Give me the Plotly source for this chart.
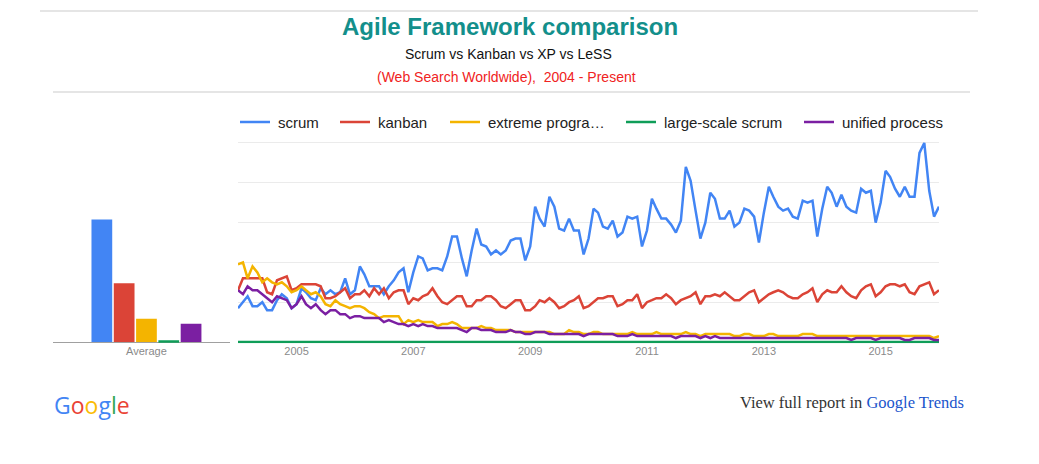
import plotly.graph_objects as go
import pandas as pd

# page is rendered with an 8px body margin, so the figure is slightly smaller
W, H = 1031, 456
OFF = 8

# ---------------- data (monthly, Jan 2004 - Jan 2016) ----------------
months = pd.date_range("2004-01-01", periods=145, freq="MS")

scrum = [
    17, 20, 23, 18, 18, 20, 16, 16, 21, 24, 22, 17,
    19, 27, 25, 22, 21, 27, 24, 26, 24, 25, 32, 24,
    26, 38, 34, 28, 28, 28, 24, 28, 31, 35, 37, 25,
    35, 43, 42, 36, 37, 37, 36, 43, 53, 53, 42, 33,
    46, 57, 49, 48, 44, 46, 44, 46, 51, 52, 52, 41,
    48, 68, 62, 58, 73, 68, 57, 56, 62, 56, 56, 44,
    52, 67, 65, 58, 57, 61, 53, 55, 63, 62, 63, 48,
    56, 72, 67, 62, 62, 59, 55, 61, 88, 81, 66, 52,
    60, 75, 72, 62, 62, 66, 58, 60, 67, 66, 63, 50,
    65, 78, 73, 68, 66, 67, 63, 62, 71, 70, 71, 53,
    67, 78, 75, 68, 74, 68, 66, 65, 77, 75, 76, 60,
    70, 86, 83, 77, 73, 78, 73, 73, 95, 100, 76, 63,
    68,
]

kanban = [
    26, 32, 32, 32, 32, 32, 25, 24, 31, 32, 33, 26,
    27, 29, 29, 29, 29, 28, 22, 22, 23, 25, 27, 22,
    24, 24, 26, 23, 27, 24, 27, 22, 25, 26, 26, 19,
    22, 21, 23, 24, 27, 23, 20, 19, 21, 23, 23, 18,
    18, 21, 21, 23, 23, 21, 18, 17, 19, 21, 21, 16,
    16, 18, 21, 20, 22, 20, 17, 18, 20, 21, 23, 17,
    18, 20, 22, 22, 23, 23, 18, 19, 21, 21, 24, 17,
    20, 21, 22, 22, 24, 22, 19, 21, 22, 23, 25, 19,
    23, 23, 24, 23, 25, 23, 21, 21, 23, 25, 26, 20,
    22, 24, 25, 26, 25, 23, 22, 22, 24, 25, 27, 20,
    24, 26, 25, 25, 28, 25, 23, 22, 26, 28, 29, 23,
    25, 28, 29, 29, 28, 29, 25, 24, 28, 29, 30, 24,
    26,
]

extreme_programming = [
    39, 40, 32, 38, 35, 30, 32, 30, 29, 30, 28, 25,
    26, 28, 26, 24, 25, 23, 19, 18, 21, 19, 18, 17,
    18, 18, 17, 15, 14, 12, 13, 13, 13, 13, 9, 11,
    10, 11, 10, 10, 10, 8, 9, 9, 10, 9, 7, 7,
    7, 7, 8, 7, 7, 6, 6, 6, 6, 5, 5, 5,
    5, 5, 5, 5, 5, 4, 4, 4, 6, 5, 5, 4,
    4, 5, 5, 4, 4, 4, 4, 4, 4, 5, 4, 4,
    4, 4, 5, 4, 4, 4, 4, 4, 5, 4, 4, 3,
    4, 4, 4, 4, 4, 4, 3, 3, 4, 4, 3, 3,
    3, 4, 4, 3, 3, 3, 3, 3, 4, 4, 4, 3,
    3, 3, 3, 3, 3, 3, 3, 3, 3, 3, 3, 3,
    3, 3, 3, 3, 3, 3, 3, 3, 3, 3, 3, 2,
    3,
]

large_scale_scrum = [
    0, 0, 0, 0, 0, 0, 0, 0, 0, 0, 0, 0,
    0, 0, 0, 0, 0, 0, 0, 0, 0, 0, 0, 0,
    0, 0, 0, 0, 0, 0, 0, 0, 0, 0, 0, 0,
    0, 0, 0, 0, 0, 0, 0, 0, 0, 0, 0, 0,
    0, 0, 0, 0, 0, 0, 0, 0, 0, 0, 0, 0,
    0, 0, 0, 0, 0, 0, 0, 0, 0, 0, 0, 0,
    0, 0, 0, 0, 0, 0, 0, 0, 0, 0, 0, 0,
    0, 0, 0, 0, 0, 0, 0, 0, 0, 0, 0, 0,
    0, 0, 0, 0, 0, 0, 0, 0, 0, 0, 0, 0,
    0, 0, 0, 0, 0, 0, 0, 0, 0, 0, 0, 0,
    0, 0, 0, 0, 0, 0, 0, 0, 0, 0, 0, 0,
    0, 0, 0, 0, 0, 0, 0, 0, 0, 0, 0, 0,
    0,
]

unified_process = [
    26, 24, 28, 26, 26, 24, 22, 20, 23, 22, 21, 17,
    19, 23, 19, 17, 19, 16, 14, 16, 16, 14, 14, 12,
    13, 13, 12, 12, 12, 12, 10, 11, 10, 9, 9, 8,
    9, 8, 9, 8, 8, 7, 7, 7, 7, 7, 6, 5,
    7, 7, 6, 6, 6, 5, 5, 5, 6, 5, 5, 4,
    4, 5, 5, 5, 4, 4, 4, 4, 4, 4, 4, 3,
    4, 4, 4, 4, 4, 4, 3, 3, 3, 4, 3, 3,
    3, 3, 3, 3, 3, 3, 2, 3, 3, 3, 3, 2,
    3, 2, 3, 2, 2, 2, 2, 2, 2, 2, 2, 2,
    2, 2, 2, 2, 2, 2, 2, 2, 2, 2, 2, 2,
    2, 2, 2, 2, 2, 2, 1, 2, 2, 2, 2, 1,
    2, 2, 2, 2, 2, 1, 1, 2, 2, 2, 2, 1,
    1,
]

series_names = ["scrum", "kanban", "extreme progra…", "large-scale scrum", "unified process"]
series_values = [scrum, kanban, extreme_programming, large_scale_scrum, unified_process]
series_colors = ["#4285F4", "#DB4437", "#F4B400", "#0F9D58", "#7B1FA2"]

average_label = ["Average"]
averages = [50, 24, 9.5, 0.7, 7.4]

tick_years = ["2005", "2007", "2009", "2011", "2013", "2015"]

# legend entry placement (page pixels): line start, text start
legend_line_x = [240, 340, 450, 626, 804]
legend_text_x = [276, 376, 486, 662, 840]


# ---------------- helpers: page pixel -> paper coords ----------------
def px_x(p):
    return (p - OFF) / W


def px_y(p):
    return 1 - (p - OFF) / H


fig = go.Figure()

for name, vals, col in zip(series_names, series_values, series_colors):
    fig.add_trace(go.Scatter(
        x=months, y=vals, name=name, mode="lines",
        line=dict(color=col, width=2.5),
        xaxis="x", yaxis="y", showlegend=False,
    ))

for name, val, col in zip(series_names, averages, series_colors):
    fig.add_trace(go.Bar(
        x=average_label, y=[val], name=name, marker=dict(color=col, line=dict(width=0)),
        showlegend=False, xaxis="x2", yaxis="y2",
    ))

y_dom = [px_y(343.2), px_y(141.8)]

fig.update_layout(
    width=W, height=H,
    margin=dict(l=0, r=0, t=0, b=0),
    paper_bgcolor="white", plot_bgcolor="white",
    font=dict(family="Liberation Sans, Arial, sans-serif", color="#222"),
    barmode="group", bargap=0.37, bargroupgap=0.07,
    xaxis=dict(
        domain=[px_x(238), px_x(939)],
        type="date",
        range=["2004-01-01", "2016-01-01"],
        tickvals=[pd.Timestamp(y + "-01-01") for y in tick_years],
        ticktext=tick_years,
        showgrid=False, zeroline=False, showline=False, ticks="",
        tickfont=dict(size=11, color="#8a8a8a"),
        anchor="y",
    ),
    yaxis=dict(
        domain=y_dom,
        range=[-0.6, 100.6],
        tickvals=[20, 40, 60, 80, 100],
        showticklabels=False,
        showgrid=True, gridcolor="#ebebeb", gridwidth=1,
        zeroline=False, showline=False, ticks="",
        anchor="x",
    ),
    xaxis2=dict(
        domain=[px_x(53), px_x(230)],
        type="category",
        range=[-0.528, 0.472],
        showgrid=False, zeroline=False, showline=False, ticks="",
        tickfont=dict(size=11, color="#8a8a8a"),
        anchor="y2",
    ),
    yaxis2=dict(
        domain=y_dom,
        range=[-0.49, 81.7],
        showticklabels=False, showgrid=False,
        zeroline=True, zerolinecolor="#a0a0a0", zerolinewidth=1,
        anchor="x2",
    ),
    showlegend=False,
)

# legend (drawn as layout decoration)
for name, col, lx, tx in zip(series_names, series_colors, legend_line_x, legend_text_x):
    fig.add_shape(type="line", xref="paper", yref="paper",
                  x0=px_x(lx), x1=px_x(lx + 30), y0=px_y(122), y1=px_y(122),
                  line=dict(color=col, width=2.5))
    fig.add_annotation(text=name, xref="paper", yref="paper",
                       x=px_x(tx), y=px_y(122), xanchor="left", yanchor="middle",
                       showarrow=False, font=dict(size=15, color="#222"))

# separator lines
fig.add_shape(type="line", xref="paper", yref="paper",
              x0=px_x(40), x1=px_x(978), y0=px_y(11), y1=px_y(11),
              line=dict(color="#dcdcdc", width=1.5))
fig.add_shape(type="line", xref="paper", yref="paper",
              x0=px_x(53), x1=px_x(970), y0=px_y(92), y1=px_y(92),
              line=dict(color="#dcdcdc", width=1.5))

# titles
fig.add_annotation(text="<b>Agile Framework comparison</b>", xref="paper", yref="paper",
                   x=px_x(510), y=px_y(27), xanchor="center", yanchor="middle", showarrow=False,
                   font=dict(size=24, color="#138F8B", family="Liberation Sans, Arial, sans-serif"))
fig.add_annotation(text="Scrum vs Kanban vs XP vs LeSS", xref="paper", yref="paper",
                   x=px_x(508), y=px_y(54), xanchor="center", yanchor="middle", showarrow=False,
                   font=dict(size=14, color="#111"))
fig.add_annotation(text="(Web Search Worldwide),  2004 - Present", xref="paper", yref="paper",
                   x=px_x(506), y=px_y(77), xanchor="center", yanchor="middle", showarrow=False,
                   font=dict(size=14, color="#F02222"))

# footer
google = ('<span style="color:#4285F4">G</span><span style="color:#EA4335">o</span>'
          '<span style="color:#FBBC05">o</span><span style="color:#4285F4">g</span>'
          '<span style="color:#34A853">l</span><span style="color:#EA4335">e</span>')
fig.add_annotation(text=google, xref="paper", yref="paper",
                   x=px_x(52), y=px_y(405), xanchor="left", yanchor="middle", showarrow=False,
                   font=dict(size=23, family="Open Sans, sans-serif"))
fig.add_annotation(text='View full report in <span style="color:#1A55CC">Google Trends</span>',
                   xref="paper", yref="paper",
                   x=px_x(966), y=px_y(402), xanchor="right", yanchor="middle", showarrow=False,
                   font=dict(size=16.5, color="#333", family="Liberation Serif, Times New Roman, serif"))

fig.write_html("out.html")
